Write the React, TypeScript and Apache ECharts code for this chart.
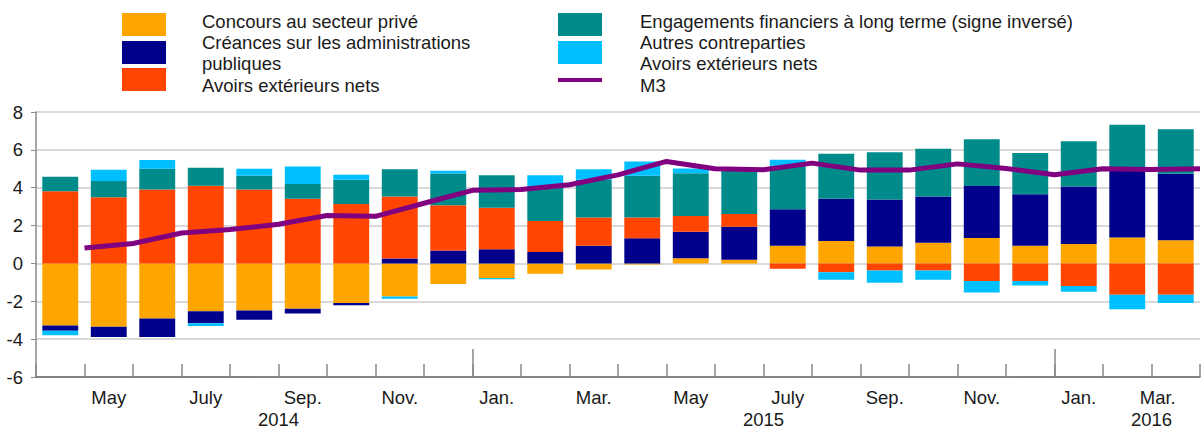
import React, { useEffect, useRef } from 'react';
import * as echarts from 'echarts';

const FONT = 'Liberation Sans, Arial, sans-serif';
const FS = 18.5;

// months (Apr 2014 – Mar 2016)
const months = [
  '2014-04', '2014-05', '2014-06', '2014-07', '2014-08', '2014-09', '2014-10', '2014-11', '2014-12',
  '2015-01', '2015-02', '2015-03', '2015-04', '2015-05', '2015-06', '2015-07', '2015-08', '2015-09',
  '2015-10', '2015-11', '2015-12', '2016-01', '2016-02', '2016-03',
];
const monthTickLabels = [
  '', 'May', '', 'July', '', 'Sep.', '', 'Nov.', '', 'Jan.', '', 'Mar.',
  '', 'May', '', 'July', '', 'Sep.', '', 'Nov.', '', 'Jan.', '', 'Mar.',
];
// month-end points (boundaries between months), used for M3 and year marks
const monthEnds = ['2014-03-end', ...months.map((m) => m + '-end')];
const yearLabels = ['2014', '2015', '2016'];
const yearLabelAt = [5, 15, 23];
const yearBoundaryAt = [9, 21];

const concours = [-3.28, -3.35, -2.91, -2.53, -2.49, -2.4, -2.09, -1.75, -1.09, -0.77, -0.54, -0.32,
  -0.05, 0.28, 0.19, 0.93, 1.19, 0.89, 1.09, 1.35, 0.93, 1.02, 1.37, 1.23];
const creances = [-0.28, -0.54, -0.98, -0.63, -0.49, -0.25, -0.12, 0.26, 0.68, 0.75, 0.61, 0.93,
  1.33, 1.39, 1.75, 1.93, 2.23, 2.49, 2.44, 2.74, 2.72, 3.04, 3.51, 3.51];
const avoirs = [3.81, 3.49, 3.91, 4.11, 3.91, 3.42, 3.14, 3.28, 2.39, 2.19, 1.63, 1.49,
  1.09, 0.84, 0.67, -0.28, -0.47, -0.37, -0.37, -0.93, -0.93, -1.19, -1.65, -1.65];
const engagements = [0.77, 0.86, 1.09, 0.95, 0.72, 0.77, 1.28, 1.44, 1.68, 1.72, 1.74, 2.0,
  2.21, 2.25, 2.28, 2.3, 2.37, 2.49, 2.53, 2.47, 2.18, 2.4, 2.44, 2.35];
const autres = [-0.23, 0.6, 0.46, -0.14, 0.37, 0.93, 0.26, -0.12, 0.14, -0.07, 0.68, 0.56,
  0.75, 0.25, 0, 0.32, -0.39, -0.65, -0.49, -0.6, -0.23, -0.3, -0.77, -0.44];
const m3 = [0.81, 1.05, 1.61, 1.79, 2.07, 2.53, 2.49, 3.18, 3.86, 3.9, 4.16, 4.68,
  5.39, 5.0, 4.95, 5.3, 4.93, 4.93, 5.26, 5.02, 4.68, 5.0, 4.96, 5.0];

const C_ORANGE = '#FFA500';
const C_NAVY = '#00008B';
const C_RED = '#FF4500';
const C_TEAL = '#008B8B';
const C_SKY = '#00BFFF';
const C_PURPLE = '#800080';

const barSeries = [
  { name: 'Concours au secteur privé', data: concours, color: C_ORANGE },
  { name: 'Créances sur les administrations publiques', data: creances, color: C_NAVY },
  { name: 'Avoirs extérieurs nets', data: avoirs, color: C_RED },
  { name: 'Engagements financiers à long terme (signe inversé)', data: engagements, color: C_TEAL },
  { name: 'Autres contreparties', data: autres, color: C_SKY },
];

const leftTexts = ['Concours au secteur privé', 'Créances sur les administrations', 'publiques', 'Avoirs extérieurs nets'];
const rightTexts = ['Engagements financiers à long terme (signe inversé)', 'Autres contreparties', 'Avoirs extérieurs nets', 'M3'];

function legendGraphic() {
  const els: any[] = [];
  const boxW = 44, boxH = 23;
  const boxYs = [13, 41, 68];
  const textYs = [21, 42, 63, 85];
  const leftColors = [C_ORANGE, C_NAVY, C_RED];
  leftColors.forEach((c, i) =>
    els.push({ type: 'rect', shape: { x: 122, y: boxYs[i], width: boxW, height: boxH }, style: { fill: c } })
  );
  [C_TEAL, C_SKY].forEach((c, i) =>
    els.push({ type: 'rect', shape: { x: 558, y: boxYs[i], width: boxW, height: boxH }, style: { fill: c } })
  );
  els.push({ type: 'line', shape: { x1: 558, y1: 80, x2: 602, y2: 80 }, style: { stroke: C_PURPLE, lineWidth: 4 } });
  leftTexts.forEach((t, i) =>
    els.push({ type: 'text', x: 202, y: textYs[i], style: { text: t, fontSize: FS, fontFamily: FONT, fill: '#1a1a1a', verticalAlign: 'middle' } })
  );
  rightTexts.forEach((t, i) =>
    els.push({ type: 'text', x: 640, y: textYs[i], style: { text: t, fontSize: FS, fontFamily: FONT, fill: '#1a1a1a', verticalAlign: 'middle' } })
  );
  return els;
}

export default function App() {
  const ref = useRef<HTMLDivElement>(null);
  useEffect(() => {
    if (!ref.current) return;
    const chart = echarts.init(ref.current, undefined, { renderer: 'svg' });
    chart.setOption({
      animation: false,
      backgroundColor: '#ffffff',
      textStyle: { fontFamily: FONT },
      grid: { left: 36, right: -5, top: 112, bottom: 51, containLabel: false },
      xAxis: [
        {
          type: 'category',
          data: months,
          position: 'bottom',
          boundaryGap: true,
          axisLine: { show: true, onZero: false, lineStyle: { color: '#666', width: 1.5 } },
          axisTick: { show: true, inside: true, length: 13, interval: 0, lineStyle: { color: '#888', width: 1.5 } },
          axisLabel: {
            interval: 0,
            alignMaxLabel: 'right',
            formatter: (_v: string, i: number) => monthTickLabels[i],
            fontSize: FS, lineHeight: 19, color: '#1a1a1a', margin: 11, fontFamily: FONT,
          },
          splitLine: { show: false },
        },
        {
          type: 'category',
          data: monthEnds,
          position: 'bottom',
          boundaryGap: false,
          axisLine: { show: false, onZero: false },
          axisTick: {
            show: true, inside: true, length: 28,
            interval: (i: number) => yearBoundaryAt.includes(i),
            lineStyle: { color: '#888', width: 1.5 },
          },
          axisLabel: {
            interval: 0,
            formatter: (_v: string, i: number) => {
              const k = yearLabelAt.indexOf(i);
              return k >= 0 ? yearLabels[k] : '';
            },
            fontSize: FS, lineHeight: 19, color: '#1a1a1a', margin: 33, fontFamily: FONT,
          },
          splitLine: { show: false },
        },
      ],
      yAxis: {
        type: 'value',
        min: -6, max: 8, interval: 2,
        axisLine: { show: true, lineStyle: { color: '#888', width: 1.5 } },
        axisTick: { show: true, length: 5, lineStyle: { color: '#888' } },
        axisLabel: { fontSize: FS, color: '#1a1a1a', margin: 13, fontFamily: FONT },
        splitLine: { show: true, lineStyle: { color: '#d9d9d9', width: 2 } },
      },
      series: [
        ...barSeries.map((s) => ({
          name: s.name,
          type: 'bar',
          stack: 'total',
          xAxisIndex: 0,
          barWidth: '74%',
          data: s.data,
          itemStyle: { color: s.color },
        })),
        {
          name: 'M3',
          type: 'line',
          xAxisIndex: 1,
          data: ['-', ...m3],
          symbol: 'none',
          showSymbol: false,
          lineStyle: { color: C_PURPLE, width: 5 },
          itemStyle: { color: C_PURPLE },
          z: 5,
        },
      ],
      graphic: legendGraphic(),
    });
    return () => chart.dispose();
  }, []);
  return <div ref={ref} style={{ position: 'fixed', left: 0, top: 0, width: 1203, height: 429 }} />;
}
